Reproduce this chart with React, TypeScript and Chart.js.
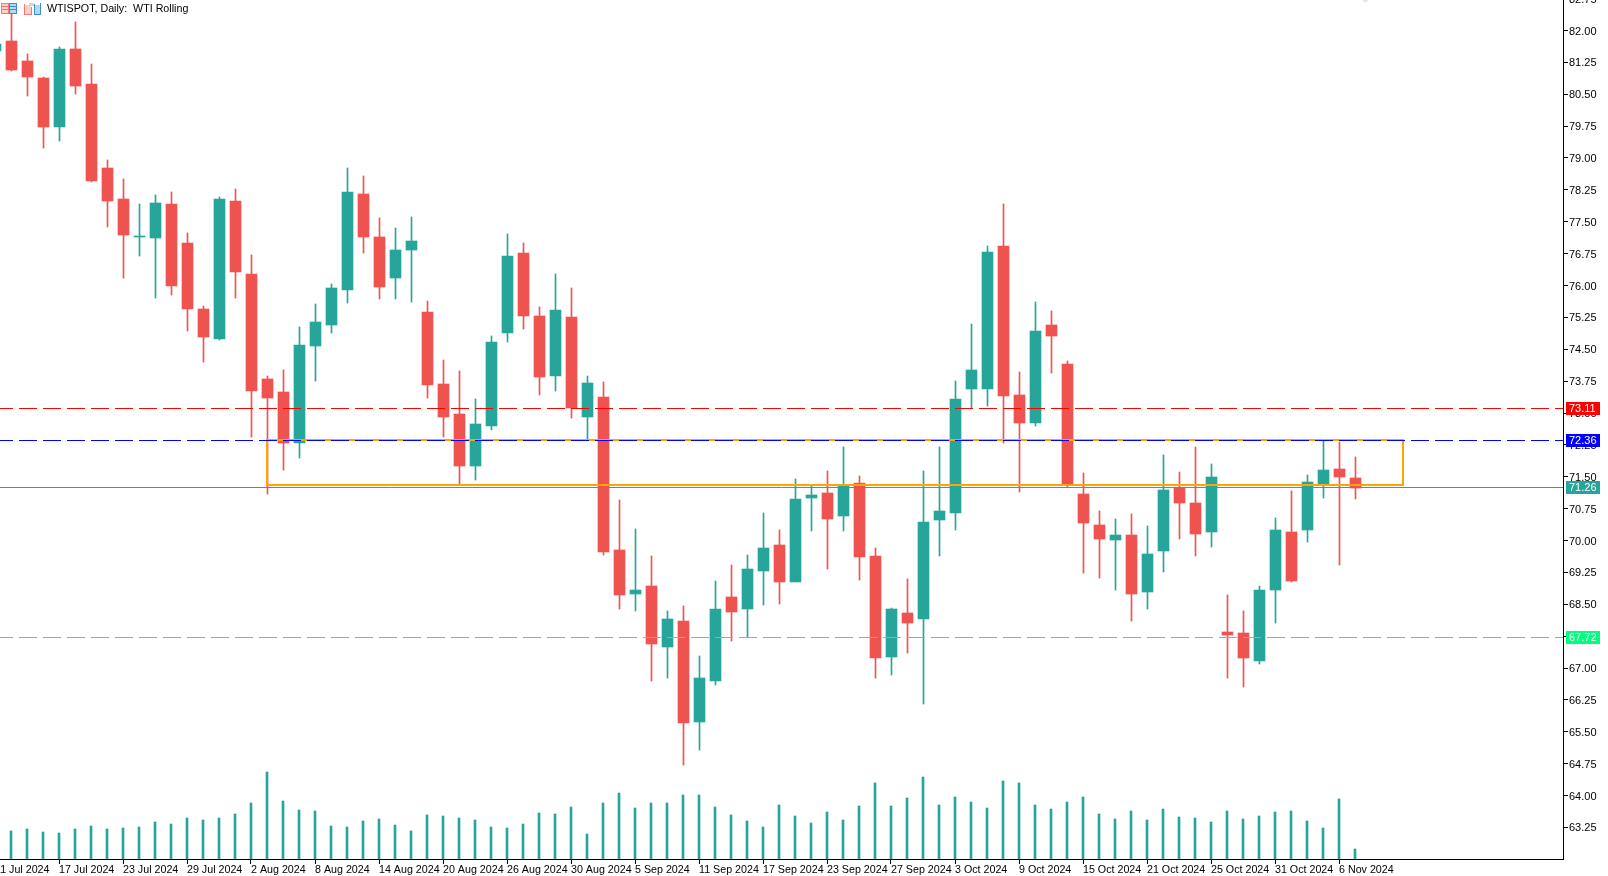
import React, { useEffect, useRef } from "react";
import { Chart, registerables } from "chart.js";

Chart.register(...registerables);

const title = "WTISPOT, Daily:  WTI Rolling";
const dateLabels = ["11 Jul 2024","17 Jul 2024","23 Jul 2024","29 Jul 2024","2 Aug 2024","8 Aug 2024","14 Aug 2024","20 Aug 2024","26 Aug 2024","30 Aug 2024","5 Sep 2024","11 Sep 2024","17 Sep 2024","23 Sep 2024","27 Sep 2024","3 Oct 2024","9 Oct 2024","15 Oct 2024","21 Oct 2024","25 Oct 2024","31 Oct 2024","6 Nov 2024"];
const priceTicks = [82.75,82,81.25,80.5,79.75,79,78.25,77.5,76.75,76,75.25,74.5,73.75,73,72.25,71.5,70.75,70,69.25,68.5,67.75,67,66.25,65.5,64.75,64,63.25];

const opens = [81.52,81.75,81.28,80.88,79.73,81.56,80.74,78.76,78.04,77.14,77.12,77.92,77,75.45,74.74,77.99,76.27,73.8,73.49,72.29,74.58,75.07,75.89,78.15,77.14,76.18,76.84,75.38,73.68,72.98,71.75,72.69,74.88,76.76,75.28,73.87,75.26,72.91,73.38,69.78,68.74,68.93,67.49,68.11,65.73,66.69,68.67,68.39,69.28,69.89,69.02,71,71.12,70.58,71.35,69.64,67.26,68.29,68.15,70.48,70.65,73.56,73.56,76.93,73.42,72.76,75.07,74.15,71.09,70.36,70.01,70.13,68.79,69.75,71.24,70.88,70.2,67.85,67.82,67.16,68.84,70.2,70.25,71.31,71.68,71.47];
const highs = [81.8,82.39,81.45,80.91,81.61,82.2,81.21,78.95,78.51,77.92,78.13,78.2,77.24,75.52,78.08,78.27,76.72,73.87,74.01,75.02,75.56,76.04,78.76,78.58,77.59,77.35,77.61,75.64,74.25,73.99,73.33,74.81,77.21,77,75.49,76.27,75.94,73.87,73.73,70.95,70.27,69.64,68.34,68.46,67.28,69.05,69.42,69.66,70.65,70.25,71.45,71.28,71.64,72.2,71.52,69.82,68.41,69.09,71.64,72.2,73.75,75.09,76.93,77.92,73.96,75.61,75.4,74.22,71.59,70.69,70.51,70.62,70.34,72.01,71.61,72.2,71.8,68.72,68.34,68.93,70.53,71.16,71.54,72.36,72.32,71.96];
const lows = [81.4,81.05,80.46,79.24,79.4,80.51,78.44,77.38,76.18,76.69,75.71,75.78,74.93,74.2,74.72,75.71,72.44,71.09,71.66,71.94,73.75,74.88,75.59,76.76,75.68,75.68,75.61,73.35,72.44,71.33,71.42,72.6,74.67,74.98,73.42,73.52,72.88,72.39,69.66,68.39,68.34,66.69,66.76,64.72,65.07,66.6,67.64,67.73,68.48,68.51,69.02,70.22,69.33,70.22,69.07,66.76,66.84,67.35,66.15,69.64,70.25,73.12,73.16,72.29,71.14,72.69,73.94,71.26,69.24,69.12,68.84,68.11,68.39,69.26,70.04,69.64,69.85,66.76,66.55,67.09,68.06,69.02,69.96,71,69.42,70.98];
const closes = [81.68,81.07,80.91,79.73,81.56,80.69,78.46,77.99,77.19,77.16,77.94,75.99,75.45,74.79,78.04,76.32,73.52,73.35,72.29,74.6,75.14,75.94,78.2,77.14,75.96,76.84,77.05,73.66,72.91,71.75,72.74,74.67,76.69,75.28,73.85,75.43,73.12,73.71,69.73,68.72,68.84,67.56,68.15,65.71,66.76,68.39,68.32,69.33,69.82,69.02,70.98,71.07,70.51,71.28,69.61,67.24,68.39,68.06,70.44,70.69,73.33,74.01,76.79,73.4,72.76,74.93,74.81,71.31,70.41,70.04,70.13,68.74,69.68,71.19,70.88,70.15,71.49,67.78,67.24,68.84,70.25,69.05,71.38,71.66,71.49,71.24];
const volumes = [30,28,30,27,26,30,33,30,31,32,37,35,41,39,41,45,56,87,58,49,48,33,32,38,40,34,28,44,43,41,39,32,31,35,46,45,52,25,56,66,51,56,56,64,64,52,44,38,32,54,43,36,47,39,53,76,53,61,82,54,62,57,51,78,76,54,50,57,62,45,40,48,39,50,42,41,37,48,40,43,47,48,38,31,60,10];
const resistanceLevel = 73.11;
const zoneTopLevel = 72.36;
const bidLevel = 71.26;
const supportLevel = 67.72;
const zoneTop = 72.37;
const zoneBottom = 71.31;
const zoneStartIndex = 17;
const zoneEndIndex = 88;

const RED = "#ef5350";
const TEAL = "#26a69a";
const FONT = "'Liberation Sans', Arial, sans-serif";
const labelEvery = 4;
const indices = opens.map((_, i) => i);

const X_MIN = 0.3125;
const X_MAX = 98;
const Y_MAX = 82.7176;
const Y_MIN = 62.506;

const snapPlugin = {
  id: "snap",
  beforeDatasetsDraw(chart: any) {
    chart.data.datasets.forEach((ds: any, i: number) => {
      const meta = chart.getDatasetMeta(i);
      if (ds.type === "line") {
        const off = ds.borderWidth % 2 ? 0.5 : 0;
        meta.data.forEach((p: any) => {
          p.y = Math.round(p.y) + off;
        });
      } else {
        meta.data.forEach((el: any) => {
          const a = Math.round(el.y);
          let b = Math.round(el.base);
          if (a === b) b = a + 1;
          el.y = a;
          el.base = b;
        });
      }
    });
  },
};

const tags = [
  { value: resistanceLevel, color: "#ff0000" },
  { value: zoneTopLevel, color: "#0000ff" },
  { value: bidLevel, color: TEAL },
  { value: supportLevel, color: "#00ff7f" },
];

function drawIcons(ctx: CanvasRenderingContext2D) {
  const stripes = (x: number, w: number, color: string, fill: string) => {
    ctx.fillStyle = fill;
    ctx.fillRect(x, 3, w, 11);
    ctx.fillStyle = color;
    ctx.fillRect(x, 3, w, 1);
    ctx.fillRect(x, 13, w, 1);
    ctx.fillRect(x, 3, 1, 11);
    ctx.fillRect(x + w - 1, 3, 1, 11);
    ctx.fillRect(x + 1, 6, w - 2, 1);
    ctx.fillRect(x + 1, 9, w - 2, 1);
  };
  stripes(1, 8, "#ee7a70", "#fbd0ca");
  stripes(9, 8, "#3c8fcc", "#b4d8f0");
  ctx.fillStyle = "#f9cfc9";
  ctx.fillRect(25, 5, 6, 9);
  ctx.fillStyle = "#ee7a70";
  ctx.fillRect(24, 4, 1, 10);
  ctx.fillRect(24, 14, 8, 1);
  ctx.fillRect(31, 7, 1, 7);
  ctx.fillStyle = "#b4d8f0";
  ctx.fillRect(35, 5, 5, 9);
  ctx.fillStyle = "#3c8fcc";
  ctx.fillRect(34, 4, 1, 11);
  ctx.fillRect(34, 14, 7, 1);
  ctx.fillRect(40, 3, 1, 12);
  ctx.fillStyle = "#d6d6d6";
  ctx.fillRect(29, 3, 5, 3);
}

const overlayPlugin = {
  id: "overlay",
  afterDraw(chart: any) {
    const { ctx, scales } = chart;
    ctx.save();
    ctx.textBaseline = "middle";
    ctx.textAlign = "left";
    ctx.font = `11px ${FONT}`;
    tags.forEach((t) => {
      const y = Math.round(scales.y.getPixelForValue(t.value));
      ctx.fillStyle = t.color;
      ctx.fillRect(scales.y.left + 3, y - 6, 34, 13);
      ctx.fillStyle = "#ffffff";
      ctx.fillText(t.value.toFixed(2), scales.y.left + 6, y + 1);
    });
    drawIcons(ctx);
    ctx.fillStyle = "#000000";
    ctx.font = `10.7px ${FONT}`;
    ctx.fillText(title, 47, 9.5);
    ctx.fillStyle = "#ebe5f3";
    ctx.beginPath();
    ctx.moveTo(1362, 0);
    ctx.lineTo(1369, 0);
    ctx.lineTo(1365.5, 3);
    ctx.fill();
    ctx.restore();
  },
};

export default function App() {
  const ref = useRef<HTMLCanvasElement>(null);
  useEffect(() => {
    document.body.style.margin = "0";
    const colors = indices.map((i) => (closes[i] >= opens[i] ? TEAL : RED));
    const flat = (v: number) => [
      { x: X_MIN, y: v },
      { x: X_MAX, y: v },
    ];
    const lineBase = { type: "line", pointRadius: 0, tension: 0, fill: false, xAxisID: "x", yAxisID: "y" };
    const chart = new Chart(ref.current as HTMLCanvasElement, {
      type: "bar",
      data: {
        datasets: [
          { ...lineBase, label: "Resistance", data: flat(resistanceLevel), borderColor: "#ff0000", borderWidth: 1, borderDash: [18, 6], borderDashOffset: 5, order: 1 },
          { ...lineBase, label: "Zone top", data: flat(zoneTopLevel), borderColor: "#0000ff", borderWidth: 1, borderDash: [18, 6], borderDashOffset: 5, order: 1 },
          { ...lineBase, label: "Support", data: flat(supportLevel), borderColor: "#2ee88a", borderWidth: 1, borderDash: [18, 6], borderDashOffset: 5, order: 1 },
          { ...lineBase, label: "Bid", data: flat(bidLevel), borderColor: "#3d9c90", borderWidth: 1, order: 1 },
          {
            ...lineBase,
            label: "Zone",
            data: [
              { x: zoneStartIndex, y: zoneTop },
              { x: zoneEndIndex, y: zoneTop },
              { x: zoneEndIndex, y: zoneBottom },
              { x: zoneStartIndex, y: zoneBottom },
              { x: zoneStartIndex, y: zoneTop },
            ],
            borderColor: "#ffa500",
            borderWidth: 2,
            borderCapStyle: "square",
            borderJoinStyle: "miter",
            order: 2,
          },
          {
            label: "Bodies",
            data: indices.map((i) => ({ x: i, y: [opens[i], closes[i]] })),
            backgroundColor: colors,
            barThickness: 11,
            grouped: false,
            xAxisID: "xc",
            yAxisID: "y",
            order: 3,
          },
          {
            label: "Wicks",
            data: indices.map((i) => ({ x: i, y: [lows[i], highs[i]] })),
            backgroundColor: colors,
            barThickness: 1,
            grouped: false,
            xAxisID: "xc",
            yAxisID: "y",
            order: 4,
          },
          {
            label: "Volume",
            data: indices.map((i) => ({ x: i, y: volumes[i] })),
            backgroundColor: TEAL,
            barThickness: 2,
            grouped: false,
            xAxisID: "x",
            yAxisID: "v",
            order: 5,
          },
        ],
      } as any,
      options: {
        animation: false,
        responsive: false,
        layout: { padding: 0 },
        plugins: { legend: { display: false }, tooltip: { enabled: false }, title: { display: false } },
        scales: {
          x: {
            type: "linear",
            position: "bottom",
            offset: false,
            min: X_MIN,
            max: X_MAX,
            afterBuildTicks: (s: any) => {
              s.ticks = dateLabels.map((_, i) => ({ value: i * labelEvery }));
            },
            afterFit: (s: any) => {
              s.height = 17;
              s.paddingLeft = 0;
              s.paddingRight = 0;
            },
            grid: { offset: false, drawOnChartArea: false, drawTicks: true, tickLength: 5, color: "#000000", tickColor: "#000000" },
            border: { display: true, color: "#000000", width: 1 },
            ticks: {
              autoSkip: false,
              maxRotation: 0,
              minRotation: 0,
              align: "start",
              padding: 0,
              color: "#000000",
              font: { family: FONT, size: 10.7 },
              callback: (_: any, i: number) => dateLabels[i],
            },
          },
          xc: { type: "linear", display: false, offset: false, position: "bottom", min: X_MIN - 0.03125, max: X_MAX - 0.03125 },
          y: {
            type: "linear",
            position: "right",
            min: Y_MIN,
            max: Y_MAX,
            afterBuildTicks: (s: any) => {
              s.ticks = priceTicks.map((value) => ({ value }));
            },
            afterFit: (s: any) => {
              s.width = 45;
              s.paddingTop = 0;
              s.paddingBottom = 0;
            },
            grid: { drawOnChartArea: false, drawTicks: true, tickLength: 5, color: "#000000", tickColor: "#000000" },
            border: { display: true, color: "#000000", width: 1 },
            ticks: {
              autoSkip: false,
              padding: 1,
              labelOffset: 1,
              color: "#000000",
              font: { family: FONT, size: 11 },
              callback: (v: any) => Number(v).toFixed(2),
            },
          },
          v: { type: "linear", display: false, position: "left", min: 0, max: 859 },
        },
      } as any,
      plugins: [snapPlugin, overlayPlugin] as any,
    });
    return () => chart.destroy();
  }, []);
  return (
    <div style={{ position: "fixed", left: 0, top: 0, width: 1608, height: 876, background: "#ffffff" }}>
      <canvas ref={ref} width={1608} height={876} style={{ display: "block" }} />
    </div>
  );
}
